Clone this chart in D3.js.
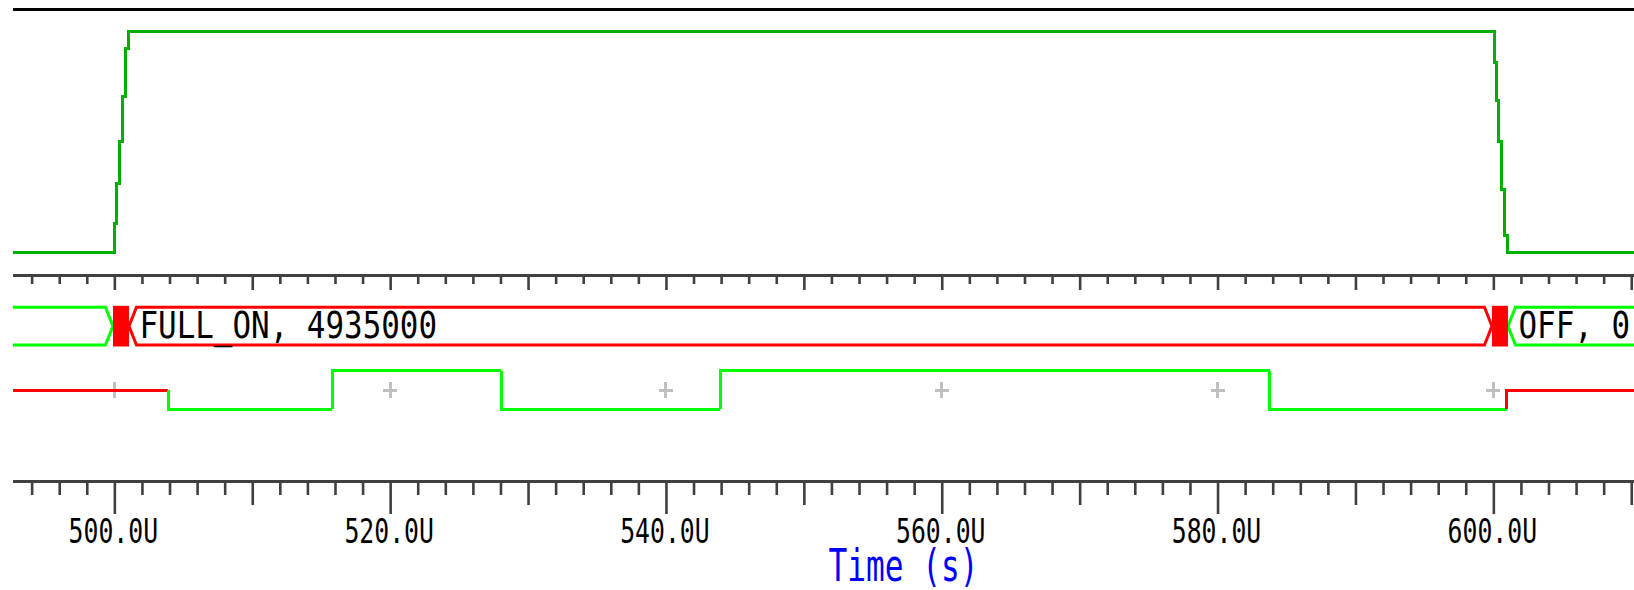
<!DOCTYPE html>
<html>
<head>
<meta charset="utf-8">
<script src="https://cdn.jsdelivr.net/npm/d3@7/dist/d3.min.js"></script>
<style>
  html, body { margin: 0; padding: 0; background: #ffffff; }
  svg { display: block; }
</style>
</head>
<body>
<div id="chart"></div>
<script>
// ---------------- DATA ----------------
// Analog waveform (step samples): time in µs, normalized amplitude
const analogTimes  = [492.65, 500.0, 500.17, 500.36, 500.57, 500.79, 501.0, 600.05, 600.2, 600.38, 600.6, 600.81, 601.02, 610.2];
const analogValues = [0, 0.129, 0.312, 0.504, 0.703, 0.92, 1.0, 0.861, 0.685, 0.504, 0.287, 0.075, 0, 0];

// Bus waveform: segment boundaries, labels and kinds
const busTimes  = [492.0, 499.9, 501.06, 599.9, 601.06, 616.0];
const busLabels = ["", "", "FULL_ON, 4935000", "", "OFF, 0"];
const busKinds  = ["ok", "glitch", "err", "glitch", "ok"];

// Digital waveform: transition times and logic states ("x" = unknown)
const digitalTimes  = [492.0, 503.9, 515.8, 528.05, 543.92, 583.8, 600.97];
const digitalStates = ["x", "0", "1", "0", "1", "0", "x"];

// Axis
const majorTicks = [500, 520, 540, 560, 580, 600];
const tickLabels = ["500.0U", "520.0U", "540.0U", "560.0U", "580.0U", "600.0U"];
const axisTitle = "Time (s)";

// ---------------- LAYOUT ----------------
const W = 1634, H = 590;
const FONT = "'DejaVu Sans Mono', 'Liberation Mono', monospace";
const GREEN_A = "#00b000", GREEN = "#00ff00", RED = "#ff0000", AXIS = "#404040";

const svg = d3.select("#chart").append("svg")
  .attr("width", W).attr("height", H)
  .style("background", "#fff");

const x = d3.scaleLinear().domain([492.65, 610.2]).range([13, 1634]);
const yA = d3.scaleLinear().domain([0, 1]).range([252.5, 31.3]);
const yD = d3.scalePoint().domain(["1", "x", "0"]).range([370.7, 409.3]);

svg.append("defs").append("clipPath").attr("id", "plot")
  .append("rect").attr("x", x.range()[0]).attr("y", 0)
  .attr("width", x.range()[1] - x.range()[0]).attr("height", H);

const plot = svg.append("g").attr("clip-path", "url(#plot)");

// top border line
plot.append("line")
  .attr("x1", x.range()[0]).attr("x2", x.range()[1])
  .attr("y1", 9.5).attr("y2", 9.5)
  .attr("stroke", "#000").attr("stroke-width", 3)
  .attr("shape-rendering", "crispEdges");

// ---------- analog trace ----------
const analog = analogTimes.map((t, i) => ({ t, v: analogValues[i] }));
plot.append("path")
  .datum(analog)
  .attr("d", d3.line().x(d => x(d.t)).y(d => yA(d.v)).curve(d3.curveStepAfter))
  .attr("fill", "none")
  .attr("stroke", GREEN_A)
  .attr("stroke-width", 3)
  .attr("shape-rendering", "crispEdges");

// ---------- axes ----------
const minorTicks = d3.range(494, 611, 2).filter(v => v % 10 !== 0);
const tenTicks = d3.range(500, 611, 10);
const midTicks = tenTicks.filter(v => v % 20 !== 0);

function axisLine(y) {
  plot.append("line")
    .attr("x1", x.range()[0]).attr("x2", x.range()[1])
    .attr("y1", y).attr("y2", y)
    .attr("stroke", AXIS).attr("stroke-width", 3)
    .attr("shape-rendering", "crispEdges");
}
function tickGroup(y, values, len) {
  const g = plot.append("g").attr("transform", `translate(0,${y})`)
    .call(d3.axisBottom(x).tickValues(values).tickSize(len).tickSizeOuter(0).tickFormat(""));
  g.select(".domain").remove();
  g.selectAll(".tick line").attr("stroke", AXIS).attr("stroke-width", 2.6);
}

// upper axis
axisLine(275.5);
tickGroup(276, minorTicks, 8);
tickGroup(276, tenTicks, 14);

// lower axis
axisLine(481.7);
tickGroup(482, minorTicks, 13);
tickGroup(482, midTicks, 23);
tickGroup(482, majorTicks, 32);

// tick labels
const labelLen = 89.5;
svg.append("g").selectAll("text")
  .data(majorTicks)
  .join("text")
  .attr("x", d => x(d) - labelLen / 2 - 1)
  .attr("y", 543)
  .attr("font-family", FONT)
  .attr("font-size", 34)
  .attr("fill", "#000")
  .attr("textLength", labelLen)
  .attr("lengthAdjust", "spacingAndGlyphs")
  .text((d, i) => tickLabels[i]);

// axis title
svg.append("text")
  .attr("x", 903.5 - 75)
  .attr("y", 581)
  .attr("font-family", FONT)
  .attr("font-size", 44)
  .attr("fill", "#0000ff")
  .attr("textLength", 150)
  .attr("lengthAdjust", "spacingAndGlyphs")
  .text(axisTitle);

// ---------- bus trace ----------
const busTop = 307.3, busBot = 345, busMid = (busTop + busBot) / 2, taper = 7.5;
const busG = plot.append("g");
busKinds.forEach((kind, i) => {
  const x0 = x(busTimes[i]), x1 = x(busTimes[i + 1]);
  if (kind === "glitch") return;
  const color = kind === "err" ? RED : GREEN;
  const p = d3.path();
  p.moveTo(x0, busMid);
  p.lineTo(x0 + taper, busTop);
  p.lineTo(x1 - taper, busTop);
  p.lineTo(x1, busMid);
  p.lineTo(x1 - taper, busBot);
  p.lineTo(x0 + taper, busBot);
  p.closePath();
  busG.append("path").attr("d", p.toString())
    .attr("fill", "none").attr("stroke", color).attr("stroke-width", 3);
  if (busLabels[i]) {
    const n = busLabels[i].length;
    busG.append("text")
      .attr("x", x0 + 10.5)
      .attr("y", 337.5)
      .attr("font-family", FONT)
      .attr("font-size", 38)
      .attr("fill", "#000")
      .attr("textLength", n * 18.6)
      .attr("lengthAdjust", "spacingAndGlyphs")
      .text(busLabels[i]);
  }
});
busKinds.forEach((kind, i) => {
  if (kind !== "glitch") return;
  const x0 = x(busTimes[i]), x1 = x(busTimes[i + 1]);
  busG.append("rect")
    .attr("x", x0).attr("width", x1 - x0)
    .attr("y", busTop - 1.5).attr("height", busBot - busTop + 3)
    .attr("fill", RED);
});

// ---------- digital trace ----------
// grid markers
const mk = plot.append("g").attr("stroke", "#c0c0c0").attr("stroke-width", 3)
  .attr("shape-rendering", "crispEdges");
majorTicks.forEach(t => {
  mk.append("line").attr("x1", x(t) - 7).attr("x2", x(t) + 7).attr("y1", yD("x")).attr("y2", yD("x"));
  mk.append("line").attr("x1", x(t)).attr("x2", x(t)).attr("y1", yD("x") - 8).attr("y2", yD("x") + 8);
});

const dg = plot.append("g");
digitalStates.forEach((s, i) => {
  const x0 = x(digitalTimes[i]);
  const x1 = i + 1 < digitalTimes.length ? x(digitalTimes[i + 1]) : x.range()[1] + 5;
  const p = d3.path();
  if (i === 0) p.moveTo(x0, yD(s));
  else { p.moveTo(x0, yD(digitalStates[i - 1])); p.lineTo(x0, yD(s)); }
  p.lineTo(x1, yD(s));
  dg.append("path").attr("d", p.toString())
    .attr("fill", "none")
    .attr("stroke", s === "x" ? RED : GREEN)
    .attr("stroke-width", 3)
    .attr("stroke-linejoin", "miter")
    .attr("shape-rendering", "crispEdges");
});
</script>
</body>
</html>
